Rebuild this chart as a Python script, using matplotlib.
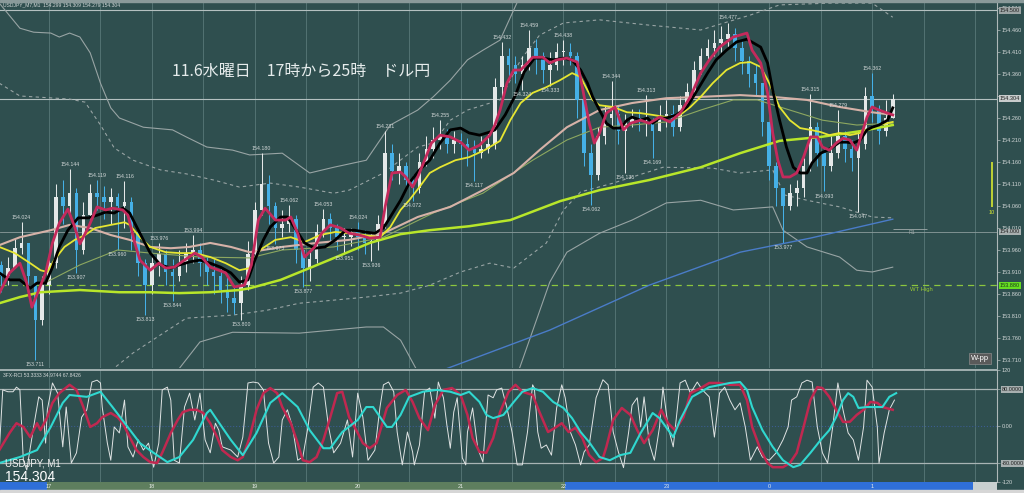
import numpy as np
import matplotlib
matplotlib.use("Agg")
import matplotlib.pyplot as plt
from matplotlib.patches import Rectangle

plt.rcParams['font.family'] = ['Liberation Sans', 'DejaVu Sans']

BG = '#2F4F4F'
TXT = '#D2D8D8'

# ---- price data: 4-minute candles, time = minutes after 17:00 ----
BAR_START = -28
BAR_STEP = 4
OPEN_FIRST = 153.925
CLOSES = [
    153.900, 153.920, 153.965, 153.975, 153.900, 153.800, 153.880, 153.930, 154.080, 154.060,
    154.090, 153.960, 154.040, 154.090, 154.080, 154.070, 154.080, 154.060, 154.070, 154.000,
    153.930, 153.880, 153.930, 153.950, 153.910, 153.900, 153.930, 153.950, 153.960, 153.930,
    153.910, 153.900, 153.870, 153.850, 153.840, 153.880, 153.950, 154.050, 154.110, 154.060,
    154.010, 154.020, 154.030, 153.960, 153.920, 153.940, 154.000, 154.030, 154.010, 153.990,
    153.990, 154.000, 153.990, 153.975, 153.980, 154.020, 154.180, 154.140, 154.150, 154.120,
    154.100, 154.160, 154.190, 154.210, 154.220, 154.200, 154.210, 154.200, 154.190, 154.180,
    154.190, 154.200, 154.330, 154.400, 154.380, 154.360, 154.380, 154.420, 154.400, 154.370,
    154.380, 154.410, 154.410, 154.400, 154.300, 154.180, 154.130, 154.220, 154.260, 154.270,
    154.230, 154.250, 154.260, 154.250, 154.250, 154.230, 154.260, 154.270, 154.240, 154.290,
    154.320, 154.370, 154.400, 154.420, 154.430, 154.440, 154.450, 154.420, 154.390, 154.360,
    154.340, 154.250, 154.150, 154.100, 154.060, 154.090, 154.100, 154.150, 154.240, 154.180,
    154.150, 154.180, 154.220, 154.190, 154.170, 154.200, 154.310, 154.280, 154.230, 154.260,
    154.304]
HIGHS = [
    153.935, 153.945, 153.985, 154.024, 153.975, 153.900, 153.900, 153.950, 154.110, 154.120,
    154.144, 154.100, 154.070, 154.110, 154.119, 154.105, 154.100, 154.090, 154.116, 154.080,
    153.990, 153.940, 153.950, 153.976, 153.960, 153.940, 153.960, 153.975, 153.994, 153.975,
    153.945, 153.940, 153.920, 153.900, 153.880, 153.900, 153.980, 154.070, 154.180, 154.130,
    154.070, 154.050, 154.062, 154.040, 153.960, 153.960, 154.020, 154.053, 154.045, 154.020,
    154.010, 154.010, 154.024, 154.005, 154.000, 154.040, 154.231, 154.200, 154.180, 154.160,
    154.130, 154.180, 154.220, 154.240, 154.255, 154.235, 154.230, 154.225, 154.215, 154.210,
    154.220, 154.225, 154.350, 154.432, 154.420, 154.400, 154.400, 154.459, 154.440, 154.410,
    154.410, 154.430, 154.438, 154.430, 154.410, 154.300, 154.200, 154.240, 154.290, 154.344,
    154.290, 154.270, 154.280, 154.280, 154.313, 154.260, 154.290, 154.300, 154.290, 154.310,
    154.340, 154.390, 154.420, 154.440, 154.460, 154.470, 154.477, 154.465, 154.440, 154.400,
    154.380, 154.340, 154.250, 154.160, 154.100, 154.110, 154.120, 154.170, 154.315, 154.250,
    154.190, 154.220, 154.279, 154.230, 154.210, 154.230, 154.330, 154.362, 154.290, 154.300,
    154.315]
LOWS = [
    153.865, 153.880, 153.920, 153.950, 153.880, 153.711, 153.790, 153.860, 153.920, 154.020,
    154.040, 153.907, 153.950, 154.030, 154.050, 154.030, 154.020, 153.960, 154.010, 153.960,
    153.900, 153.813, 153.860, 153.900, 153.880, 153.844, 153.890, 153.910, 153.930, 153.900,
    153.880, 153.860, 153.840, 153.820, 153.815, 153.800, 153.870, 153.940, 154.040, 154.020,
    153.973, 153.990, 154.000, 153.930, 153.877, 153.890, 153.930, 153.990, 153.980, 153.960,
    153.951, 153.970, 153.960, 153.950, 153.936, 153.960, 154.010, 154.120, 154.110, 154.100,
    154.072, 154.090, 154.150, 154.170, 154.190, 154.180, 154.180, 154.170, 154.150, 154.117,
    154.170, 154.180, 154.190, 154.300, 154.350, 154.340, 154.324, 154.370, 154.360, 154.340,
    154.333, 154.370, 154.380, 154.380, 154.260, 154.150, 154.062, 154.120, 154.200, 154.240,
    154.200, 154.135, 154.240, 154.230, 154.220, 154.169, 154.230, 154.240, 154.220, 154.230,
    154.280, 154.310, 154.360, 154.390, 154.400, 154.410, 154.420, 154.390, 154.360, 154.330,
    154.310, 154.220, 154.120, 154.060, 153.977, 154.050, 154.060, 154.080, 154.140, 154.150,
    154.093, 154.140, 154.170, 154.160, 154.140, 154.047, 154.190, 154.250, 154.200, 154.220,
    154.260]
HIGH_MARKS = [3, 10, 14, 18, 23, 28, 38, 42, 47, 52, 56, 64, 73, 77, 82, 89, 94, 106, 118, 122, 127]
LOW_MARKS = [5, 11, 17, 21, 25, 35, 40, 44, 50, 54, 60, 69, 76, 80, 86, 91, 95, 114, 120, 125]

# ---- moving averages and bands: (minute, price) ----
MA_RED = [(-29, 153.862), (-23, 153.908), (-17, 153.930), (-13, 153.885), (-10, 153.830), (-6, 153.869),
          (-2, 153.908), (2, 153.976), (6, 154.021), (11, 154.053), (15, 154.012), (18, 153.974),
          (23, 154.012), (28, 154.058), (33, 154.051), (37, 154.055), (43, 154.051), (46, 154.039),
          (50, 153.976), (53, 153.937), (59, 153.914), (64, 153.930), (68, 153.919), (73, 153.921),
          (79, 153.937), (85, 153.953), (89, 153.944), (94, 153.921), (99, 153.914), (103, 153.908),
          (108, 153.876), (114, 153.880), (118, 153.926), (122, 154.028), (126, 154.055), (132, 154.028),
          (138, 154.028), (141, 154.035), (145, 153.998), (149, 153.944), (155, 153.967), (159, 153.998),
          (164, 154.017), (170, 154.010), (175, 153.998), (181, 153.994), (187, 153.987), (193, 153.989),
          (196, 154.058), (200, 154.135), (205, 154.137), (208, 154.126), (212, 154.103), (215, 154.126),
          (219, 154.164), (223, 154.203), (228, 154.221), (234, 154.217), (240, 154.205), (245, 154.187),
          (251, 154.198), (257, 154.221), (260, 154.244), (263, 154.278), (267, 154.339), (271, 154.369),
          (275, 154.369), (279, 154.385), (282, 154.398), (288, 154.398), (292, 154.385), (296, 154.392),
          (302, 154.396), (308, 154.387), (311, 154.330), (315, 154.248), (318, 154.203), (321, 154.226),
          (325, 154.271), (330, 154.285), (335, 154.233), (339, 154.248), (345, 154.255), (350, 154.248),
          (356, 154.262), (362, 154.251), (368, 154.271), (374, 154.308), (380, 154.362), (385, 154.392),
          (391, 154.421), (399, 154.444), (407, 154.453), (410, 154.414), (415, 154.385), (419, 154.317),
          (422, 154.226), (425, 154.164), (428, 154.126), (432, 154.126), (436, 154.135), (440, 154.171),
          (444, 154.217), (448, 154.217), (451, 154.194), (455, 154.187), (459, 154.203), (463, 154.214),
          (467, 154.210), (471, 154.187), (477, 154.262), (480, 154.285), (484, 154.278), (489, 154.271),
          (492, 154.267)]
MA_BLACK = [(-29, 153.908), (-23, 153.892), (-17, 153.892), (-11, 153.873), (-7, 153.885), (-2, 153.885),
            (2, 153.921), (6, 153.967), (11, 154.005), (17, 154.033), (23, 154.033), (28, 154.039),
            (33, 154.046), (38, 154.044), (43, 154.055), (47, 154.044), (53, 153.998), (59, 153.953),
            (65, 153.926), (71, 153.919), (76, 153.926), (82, 153.933), (88, 153.937), (94, 153.930),
            (100, 153.921), (106, 153.908), (111, 153.887), (116, 153.892), (120, 153.937), (125, 153.983),
            (129, 154.012), (135, 154.035), (139, 154.035), (143, 154.012), (149, 153.976), (155, 153.964),
            (161, 153.967), (167, 153.983), (173, 154.005), (178, 154.005), (184, 154.001), (190, 153.998),
            (195, 154.010), (199, 154.035), (205, 154.073), (210, 154.112), (216, 154.142), (222, 154.164),
            (228, 154.203), (234, 154.233), (240, 154.237), (245, 154.226), (251, 154.221), (257, 154.228),
            (260, 154.233), (266, 154.267), (272, 154.312), (277, 154.364), (283, 154.396), (288, 154.396),
            (294, 154.392), (300, 154.396), (305, 154.392), (310, 154.369), (314, 154.339), (317, 154.308),
            (321, 154.278), (325, 154.248), (329, 154.237), (333, 154.237), (337, 154.255), (340, 154.262),
            (345, 154.255), (349, 154.260), (352, 154.248), (356, 154.260), (360, 154.260), (366, 154.267),
            (372, 154.285), (378, 154.323), (384, 154.362), (389, 154.392), (395, 154.414), (401, 154.433),
            (407, 154.439), (415, 154.421), (419, 154.385), (422, 154.323), (426, 154.255), (430, 154.194),
            (434, 154.148), (438, 154.135), (442, 154.135), (445, 154.158), (450, 154.180), (454, 154.187),
            (457, 154.194), (461, 154.205), (465, 154.205), (469, 154.203), (473, 154.210), (477, 154.233),
            (480, 154.239), (484, 154.244), (489, 154.255), (492, 154.283)]
MA_YELLOW = [(-29, 153.967), (-20, 153.953), (-11, 153.930), (-5, 153.914), (-1, 153.910), (3, 153.937),
             (9, 153.967), (15, 153.983), (21, 153.994), (27, 154.010), (36, 154.017), (44, 154.023),
             (47, 154.017), (53, 153.989), (59, 153.967), (68, 153.955), (76, 153.953), (85, 153.953),
             (94, 153.944), (103, 153.930), (111, 153.914), (117, 153.919), (123, 153.960), (132, 153.983),
             (141, 153.989), (149, 153.978), (158, 153.994), (167, 154.001), (175, 153.998), (184, 153.994),
             (193, 153.989), (199, 154.012), (205, 154.051), (210, 154.073), (216, 154.103), (222, 154.135),
             (228, 154.148), (237, 154.164), (245, 154.171), (254, 154.187), (263, 154.208), (269, 154.255),
             (275, 154.294), (282, 154.317), (290, 154.330), (298, 154.346), (305, 154.362), (310, 154.353),
             (314, 154.323), (317, 154.301), (321, 154.289), (329, 154.285), (337, 154.273), (345, 154.271),
             (352, 154.267), (360, 154.262), (368, 154.267), (374, 154.285), (380, 154.308), (387, 154.339),
             (395, 154.369), (403, 154.385), (409, 154.387), (415, 154.376), (420, 154.339), (426, 154.285),
             (432, 154.255), (438, 154.237), (444, 154.233), (450, 154.228), (455, 154.221), (461, 154.226),
             (467, 154.221), (473, 154.226), (479, 154.237), (484, 154.244), (492, 154.251)]
MA_BEIGE = [(-29, 153.971), (-17, 153.989), (1, 154.005), (12, 154.017), (24, 154.010), (36, 153.994),
            (47, 153.983), (59, 153.967), (71, 153.964), (82, 153.967), (94, 153.976), (106, 153.967),
            (117, 153.955), (136, 153.967), (156, 153.976), (175, 153.983), (195, 153.998), (215, 154.035),
            (234, 154.058), (253, 154.096), (271, 154.135), (286, 154.187), (302, 154.239), (321, 154.278),
            (340, 154.294), (360, 154.305), (380, 154.308), (403, 154.312), (422, 154.308), (442, 154.301),
            (461, 154.285), (480, 154.273), (492, 154.267)]
MA_OLIVE = [(-5, 153.880), (18, 153.926), (40, 153.960), (59, 153.953), (88, 153.944), (117, 153.942),
            (136, 153.960), (166, 153.967), (195, 153.989), (224, 154.044), (253, 154.089), (282, 154.164),
            (302, 154.210), (321, 154.239), (340, 154.244), (360, 154.251), (380, 154.278), (399, 154.301),
            (413, 154.301), (432, 154.278), (451, 154.255), (471, 154.244), (492, 154.248)]
MA_GREEN = [(-29, 153.839), (-17, 153.853), (-5, 153.864), (18, 153.869), (41, 153.864), (59, 153.864),
            (76, 153.862), (94, 153.864), (111, 153.869), (117, 153.873), (135, 153.892), (152, 153.919),
            (170, 153.948), (187, 153.976), (205, 153.996), (222, 154.005), (245, 154.014), (269, 154.028),
            (298, 154.071), (321, 154.096), (350, 154.119), (380, 154.148), (403, 154.180), (426, 154.208),
            (450, 154.217), (473, 154.230), (492, 154.244)]
MA_BLUE = [(222, 153.676), (292, 153.778), (350, 153.880), (403, 153.955), (444, 153.987), (492, 154.030)]
BAND_UP_OUTER = [(-29, 154.521), (-17, 154.464), (-9, 154.455), (1, 154.453), (6, 154.444), (12, 154.453),
                 (18, 154.444), (24, 154.408), (30, 154.339), (36, 154.283), (41, 154.260), (55, 154.239),
                 (72, 154.233), (80, 154.217), (92, 154.194), (107, 154.187), (117, 154.176), (136, 154.180),
                 (152, 154.135), (166, 154.148), (185, 154.164), (199, 154.244), (215, 154.278), (224, 154.308),
                 (234, 154.346), (244, 154.392), (253, 154.414), (263, 154.437), (275, 154.540), (300, 154.600),
                 (492, 154.580)]
BAND_UP_INNER = [(-29, 154.339), (-17, 154.310), (12, 154.303), (21, 154.296), (30, 154.244), (38, 154.192),
                 (49, 154.164), (65, 154.142), (80, 154.133), (96, 154.119), (111, 154.103), (129, 154.112),
                 (146, 154.103), (166, 154.089), (175, 154.096), (195, 154.135), (215, 154.194), (224, 154.203),
                 (234, 154.255), (244, 154.278), (263, 154.301), (275, 154.392), (286, 154.448), (300, 154.476),
                 (321, 154.483), (350, 154.471), (380, 154.460), (409, 154.494), (426, 154.517), (455, 154.521),
                 (480, 154.521), (492, 154.489)]
BAND_LO_INNER = [(33, 153.676), (49, 153.726), (65, 153.767), (80, 153.805), (107, 153.812), (127, 153.823),
                 (146, 153.839), (166, 153.846), (185, 153.853), (205, 153.862), (222, 153.880), (240, 153.910),
                 (257, 153.930), (271, 153.919), (290, 153.976), (300, 154.051), (310, 154.092), (329, 154.112),
                 (358, 154.148), (387, 154.146), (403, 154.135), (422, 154.142), (429, 154.085), (442, 154.073),
                 (461, 154.058), (480, 154.035), (492, 154.033)]
BAND_LO_OUTER = [(73, 153.676), (88, 153.751), (107, 153.773), (146, 153.771), (185, 153.785), (195, 153.785),
                 (205, 153.755), (216, 153.676), (240, 153.600), (272, 153.665), (292, 153.887), (302, 153.955),
                 (321, 153.998), (340, 154.028), (360, 154.067), (380, 154.073), (399, 154.051), (422, 154.058),
                 (428, 154.005), (442, 153.967), (461, 153.944), (471, 153.914), (480, 153.910), (492, 153.921)]

# ---- RCI oscillator: (minute, value) ----
RCI_WHITE = [(-29, -52), (-27, 78), (-24, 74), (-21, 74), (-19, 84), (-17, 78), (-15, -74), (-13, -95),
             (-9, -2), (-6, 63), (-4, 56), (-2, -37), (-1, 35), (2, 93), (5, 71), (8, -45), (10, 41),
             (13, -80), (16, -58), (19, 19), (22, 35), (25, 95), (28, 99), (30, 93), (31, 41), (34, -37),
             (36, -74), (38, -2), (41, -15), (44, 56), (46, -45), (49, -67), (52, -30), (55, -52), (58, -37),
             (61, -89), (64, -37), (66, 78), (69, 84), (71, 56), (73, -74), (76, -80), (79, 41), (82, 71),
             (85, 13), (88, 71), (91, -30), (94, -58), (97, 6), (99, -9), (101, -45), (106, -52), (110, -67),
             (113, -24), (116, 93), (119, 95), (122, 93), (125, 78), (128, -37), (131, -80), (134, -67),
             (136, 13), (139, 35), (142, -2), (145, -74), (148, -67), (151, -2), (154, 84), (157, 93),
             (160, 84), (163, -2), (166, -58), (170, -37), (174, 13), (177, -67), (180, 71), (183, 19),
             (186, -74), (190, -52), (193, 41), (195, 89), (198, 95), (201, 74), (203, -13), (206, -84),
             (209, -13), (212, -56), (213, -84), (216, -41), (219, 74), (222, 82), (225, 17), (227, 95),
             (230, 61), (232, 2), (234, -48), (236, 30), (238, 61), (241, -69), (243, -84), (244, -13),
             (247, 39), (250, -48), (253, -78), (256, 67), (259, 61), (261, 78), (264, 82), (267, 39),
             (270, -13), (273, -84), (276, -84), (279, -13), (282, 89), (283, 82), (285, -13), (287, -48),
             (290, -41), (293, -63), (296, 39), (299, 89), (301, 61), (304, -13), (307, -41), (310, -84),
             (312, -56), (315, -41), (319, 61), (323, 100), (326, 89), (329, -13), (332, -56), (335, -90),
             (338, -13), (340, 45), (343, 61), (345, -2), (347, 63), (350, -37), (353, -74), (356, -2),
             (358, 84), (361, -2), (364, -45), (368, 93), (371, 99), (374, 71), (378, 95), (381, 78),
             (385, 63), (388, -24), (391, 71), (394, 84), (397, 56), (400, 35), (403, 50), (406, -2),
             (409, -74), (413, -45), (416, -67), (420, -74), (424, -58), (428, -30), (431, -2), (433, 56),
             (436, 63), (439, 93), (442, 99), (445, 95), (448, -2), (451, -58), (454, -80), (457, -2),
             (460, 93), (463, 35), (466, -15), (469, -30), (472, -74), (475, -2), (477, 99), (480, 84),
             (483, -2), (484, -80), (487, -15), (490, 35), (493, 56)]
RCI_RED = [(-29, -52), (-23, -15), (-19, 6), (-15, -2), (-11, -24), (-7, 6), (-5, -9), (-1, 19), (2, 50),
           (6, 71), (12, 89), (16, 78), (20, 41), (24, -2), (28, 6), (31, 19), (36, 28), (40, 19), (43, 6),
           (47, -24), (51, -52), (55, -67), (59, -78), (63, -80), (66, -58), (71, -15), (75, 13), (78, 30),
           (82, 35), (86, 35), (90, 28), (94, 6), (98, -24), (101, -52), (106, -67), (110, -74), (113, -67),
           (117, -24), (121, 35), (125, 71), (129, 82), (133, 71), (136, 41), (141, 6), (145, -37), (148, -74),
           (152, -78), (156, -67), (160, -30), (164, 19), (168, 71), (171, 74), (175, 19), (180, -15),
           (183, -37), (187, -48), (191, -37), (197, 39), (203, 67), (208, 78), (212, 52), (216, 17),
           (221, -9), (225, 45), (230, 78), (235, 82), (240, 67), (244, 24), (247, -26), (251, -56),
           (255, -58), (259, -26), (263, 30), (268, 74), (272, 89), (276, 74), (282, 67), (286, 30),
           (291, -13), (295, -4), (299, 6), (303, -13), (307, -4), (311, -26), (315, -63), (319, -78),
           (323, -69), (325, -45), (329, 13), (334, 39), (339, 24), (343, -9), (347, -37), (352, -9),
           (357, 35), (361, 6), (365, -9), (370, 19), (374, 71), (380, 82), (385, 93), (391, 93), (397, 89),
           (403, 89), (407, 56), (410, -2), (415, -52), (419, -80), (422, -89), (428, -89), (432, -80),
           (436, -58), (440, -2), (444, 56), (448, 84), (451, 82), (455, 63), (459, 35), (463, 9), (467, 9),
           (471, 24), (475, 35), (479, 52), (483, 50), (486, 41), (492, 35)]
RCI_CYAN = [(-29, -80), (-17, -67), (-7, -52), (1, -2), (8, 50), (12, 67), (22, 63), (30, 74), (37, 41),
            (45, 2), (53, -37), (61, -58), (69, -78), (76, -67), (84, -30), (92, 28), (94, 35), (98, 13),
            (106, -30), (113, -63), (121, -15), (129, 50), (136, 71), (145, 41), (152, -9), (160, -48),
            (164, -48), (171, -13), (180, 13), (185, 41), (189, 41), (197, -2), (200, -2), (205, 24),
            (210, 63), (218, 74), (226, 78), (234, 74), (240, 67), (245, 74), (251, 52), (255, 24), (259, 17),
            (265, 24), (271, 52), (276, 74), (282, 82), (288, 74), (294, 52), (300, 39), (305, 17), (310, -13),
            (315, -35), (321, -67), (327, -74), (333, -63), (339, -58), (345, -15), (352, 28), (356, 17),
            (364, -24), (368, 13), (375, 63), (385, 84), (397, 93), (403, 95), (407, 78), (410, 41), (416, -9),
            (422, -45), (428, -74), (434, -89), (438, -84), (444, -58), (450, -30), (455, -9), (459, 19),
            (463, 56), (466, 71), (469, 63), (472, 39), (477, 41), (486, 41), (490, 63), (494, 71)]

PRICE_TICKS = [154.510, 154.460, 154.410, 154.360, 154.310, 154.260, 154.210, 154.160, 154.110,
               154.060, 154.010, 153.960, 153.910, 153.860, 153.810, 153.760, 153.710]
RCI_TICKS = [120, 80, 0, -80, -120]
RCI_TICK_LABELS = ['120', '80.0000', '0.00', '-80.0000', '-120']
HOUR_TICKS = [0, 60, 120, 180, 240, 300, 360, 420, 480]
HOUR_LABELS = ['17', '18', '19', '20', '21', '22', '23', '0', '1']
LAST_PRICE = 154.304
TOP_LEVEL = 154.505
R1_LEVEL = 154.001
WT_HIGH = 153.880

XLIM = (-28.6, 552.8)
PX = 1024
PY = 493


def unzip(pairs):
    t, v = zip(*pairs)
    return np.array(t), np.array(v)


def setup(ax):
    ax.set_facecolor(BG)
    ax.set_xlim(*XLIM)
    for side in ['top', 'left', 'bottom']:
        ax.spines[side].set_visible(False)
    ax.spines['right'].set_color('#AEB8B8')
    ax.spines['right'].set_linewidth(0.8)
    ax.set_xticks([])
    ax.yaxis.tick_right()
    ax.tick_params(axis='y', colors='#AEB8B8', labelcolor=TXT, labelsize=4,
                   length=2, width=0.5, pad=1.5)
    for m in range(0, 541, 30):
        ax.axvline(m, color='#587878', lw=0.6, zorder=0)


def draw_candles(ax):
    closes = np.array(CLOSES)
    highs = np.array(HIGHS)
    lows = np.array(LOWS)
    opens = np.r_[OPEN_FIRST, closes[:-1]]
    t = BAR_START + BAR_STEP * np.arange(len(closes))
    colors = np.where(closes >= opens, '#E4E8E8', '#45B0E6')
    ax.vlines(t, lows, highs, colors=colors, lw=0.75, zorder=2)
    body = np.maximum(np.abs(closes - opens), 0.002)
    ax.bar(t, body, bottom=np.minimum(opens, closes), width=2.1,
           color=colors, lw=0, zorder=2)

    for i in HIGH_MARKS:
        ax.annotate(f'{highs[i]:.3f}', (t[i], highs[i]), xytext=(0, 1.5),
                    textcoords='offset points', ha='center', va='bottom',
                    fontsize=3.8, color=TXT, zorder=6)
    for i in LOW_MARKS:
        ax.annotate(f'{lows[i]:.3f}', (t[i], lows[i]), xytext=(0, -1.5),
                    textcoords='offset points', ha='center', va='top',
                    fontsize=3.8, color=TXT, zorder=6)


def draw_price_panel(ax):
    setup(ax)
    ax.set_ylim(153.6918, 154.5236)
    ax.set_yticks(PRICE_TICKS)
    # the level nearest the last-price box is covered by that box in MT4
    ax.set_yticklabels(['' if abs(p - LAST_PRICE) < 0.01 else f'{p:.3f}' for p in PRICE_TICKS])

    ax.axhline(TOP_LEVEL, color='#B4C0C0', lw=0.8, zorder=1)
    ax.axhline(LAST_PRICE, color='#B4C0C0', lw=0.8, zorder=1)
    ax.axhline(R1_LEVEL, color='#8C9C9C', lw=0.6, zorder=1)
    ax.axhline(WT_HIGH, color='#8CC63F', lw=0.9, ls=(0, (5, 4)), zorder=1)

    for pairs, style in [(BAND_UP_OUTER, '-'), (BAND_LO_OUTER, '-'),
                         (BAND_UP_INNER, (0, (3, 3))), (BAND_LO_INNER, (0, (3, 3)))]:
        t, p = unzip(pairs)
        ax.plot(t, p, color='#98A4A4', lw=0.8, ls=style, zorder=1)

    draw_candles(ax)

    lines = [(MA_BLUE, '#4A7CC8', 1.0), (MA_OLIVE, '#8DA860', 0.8),
             (MA_GREEN, '#B8E62A', 1.8), (MA_BEIGE, '#D6B2A8', 1.5),
             (MA_YELLOW, '#E6E632', 1.3), (MA_BLACK, '#000000', 2.0),
             (MA_RED, '#C42A5C', 2.0)]
    for pairs, color, lw in lines:
        t, p = unzip(pairs)
        ax.plot(t, p, color=color, lw=lw, zorder=4, solid_joinstyle='round')

    ax.text(0.003, 0.998, 'USDJPY_M7,M1  154.299 154.309 154.279 154.304',
            transform=ax.transAxes, fontsize=3.6, color=TXT, va='top')

    # right-hand price boxes
    yt = ax.get_yaxis_transform()
    boxes = [(TOP_LEVEL, '154.500', '#9CA4A4', '#202020'),
             (LAST_PRICE, '154.304', '#C8CCCC', '#202020'),
             (R1_LEVEL, '154.000', '#A8B0B0', '#202020'),
             (WT_HIGH, '153.880', '#66DD22', '#1A3A1A')]
    for level, label, fc, tc in boxes:
        ax.text(1.003, level, label, transform=yt, fontsize=4, color=tc,
                va='center', ha='left', zorder=7,
                bbox=dict(boxstyle='square,pad=0.15', fc=fc, ec='none'))

    # pivot annotations
    ax.hlines(R1_LEVEL + 0.007, 492, 512, color='#A0AAAA', lw=0.6)
    ax.text(503, R1_LEVEL - 0.002, 'R1', fontsize=3.8, color='#A0AAAA', ha='center', va='center')
    ax.text(502, WT_HIGH - 0.01, 'WT High', fontsize=4.2, color='#9ACD32', ha='left', va='center')
    ax.vlines(550, 154.058, 154.160, color='#D8E830', lw=1.2)
    ax.text(550, 154.052, '10', fontsize=4, color='#D8E830', ha='center', va='top')
    ax.text(543, 153.714, 'W-pp', fontsize=5.5, color='white', ha='center', va='center',
            bbox=dict(boxstyle='square,pad=0.25', fc='#5A5A5A', ec='#8A8A8A', lw=0.5))


def draw_oscillator(osc):
    setup(osc)
    osc.set_ylim(-121, 121)
    osc.spines['top'].set_visible(True)
    osc.spines['top'].set_color('#B4C0C0')
    osc.spines['top'].set_linewidth(1.2)
    osc.set_yticks(RCI_TICKS)
    osc.set_yticklabels(RCI_TICK_LABELS)
    for lab in osc.get_yticklabels():
        if '0000' in lab.get_text():
            lab.set_bbox(dict(boxstyle='square,pad=0.15', fc='#A8B0B0', ec='none'))
            lab.set_color('#202020')

    osc.axhline(80, color='#A8B4B4', lw=0.9, zorder=1)
    osc.axhline(-80, color='#A8B4B4', lw=0.9, zorder=1)
    osc.axhline(0, color='#3C5C90', lw=0.8, ls=':', zorder=1)

    t, v = unzip(RCI_WHITE)
    osc.plot(t, v, color='#E0E4E4', lw=0.7, zorder=3)
    t, v = unzip(RCI_RED)
    osc.plot(t, v, color='#C02850', lw=1.8, zorder=3)
    t, v = unzip(RCI_CYAN)
    osc.plot(t, v, color='#30D8D0', lw=1.5, zorder=4)

    osc.text(0.003, 0.975, '3FX-RCI 53.3333 34.9744 67.8426', transform=osc.transAxes,
             fontsize=3.6, color=TXT, va='top')


def draw_time_strip(strip):
    strip.set_xlim(*XLIM)
    strip.set_ylim(0, 1)
    strip.axis('off')
    strip.add_patch(Rectangle((XLIM[0], 0), XLIM[1] - XLIM[0], 1, color='#5E7E5E', lw=0))
    strip.axvspan(XLIM[0], -1, color='#2F6FD8', lw=0)
    strip.axvspan(301, 539, color='#2F6FD8', lw=0)
    strip.axvspan(539, XLIM[1], color='#C8D0D0', lw=0)
    for m, lab in zip(HOUR_TICKS, HOUR_LABELS):
        strip.text(m, 0.5, lab, fontsize=4, color='#E8ECE8', ha='center', va='center')


def main():
    fig = plt.figure(figsize=(PX / 100, PY / 100), dpi=100, facecolor=BG)
    w = 997 / PX
    ax = fig.add_axes([0, 1 - 368 / PY, w, 366 / PY])
    osc = fig.add_axes([0, 1 - 482 / PY, w, 112 / PY])
    strip = fig.add_axes([0, 1 - 490 / PY, w, 8 / PY])

    draw_price_panel(ax)
    draw_oscillator(osc)
    draw_time_strip(strip)

    fig.text(172 / PX, 1 - 71 / PY, '11.6水曜日　17時から25時　ドル円',
             family=['Noto Sans CJK JP', 'DejaVu Sans'], fontsize=11.5,
             color='#E6ECEC', ha='left', va='center')
    fig.text(5 / PX, 1 - 464 / PY, 'USDJPY, M1', fontsize=7, color='#F0F0F0', va='center')
    fig.text(5 / PX, 1 - 477 / PY, '154.304', fontsize=10, color='white', va='center')

    fig.patches.append(Rectangle((0, 0), 1, 3 / PY, transform=fig.transFigure,
                                 color='#D6D6D6', zorder=0))
    fig.patches.append(Rectangle((0, 1 - 1.5 / PY), 1, 1.5 / PY, transform=fig.transFigure,
                                 color='#8A9A9A', zorder=0))

    fig.savefig('out.png', dpi=100, facecolor=BG)


if __name__ == '__main__':
    main()
